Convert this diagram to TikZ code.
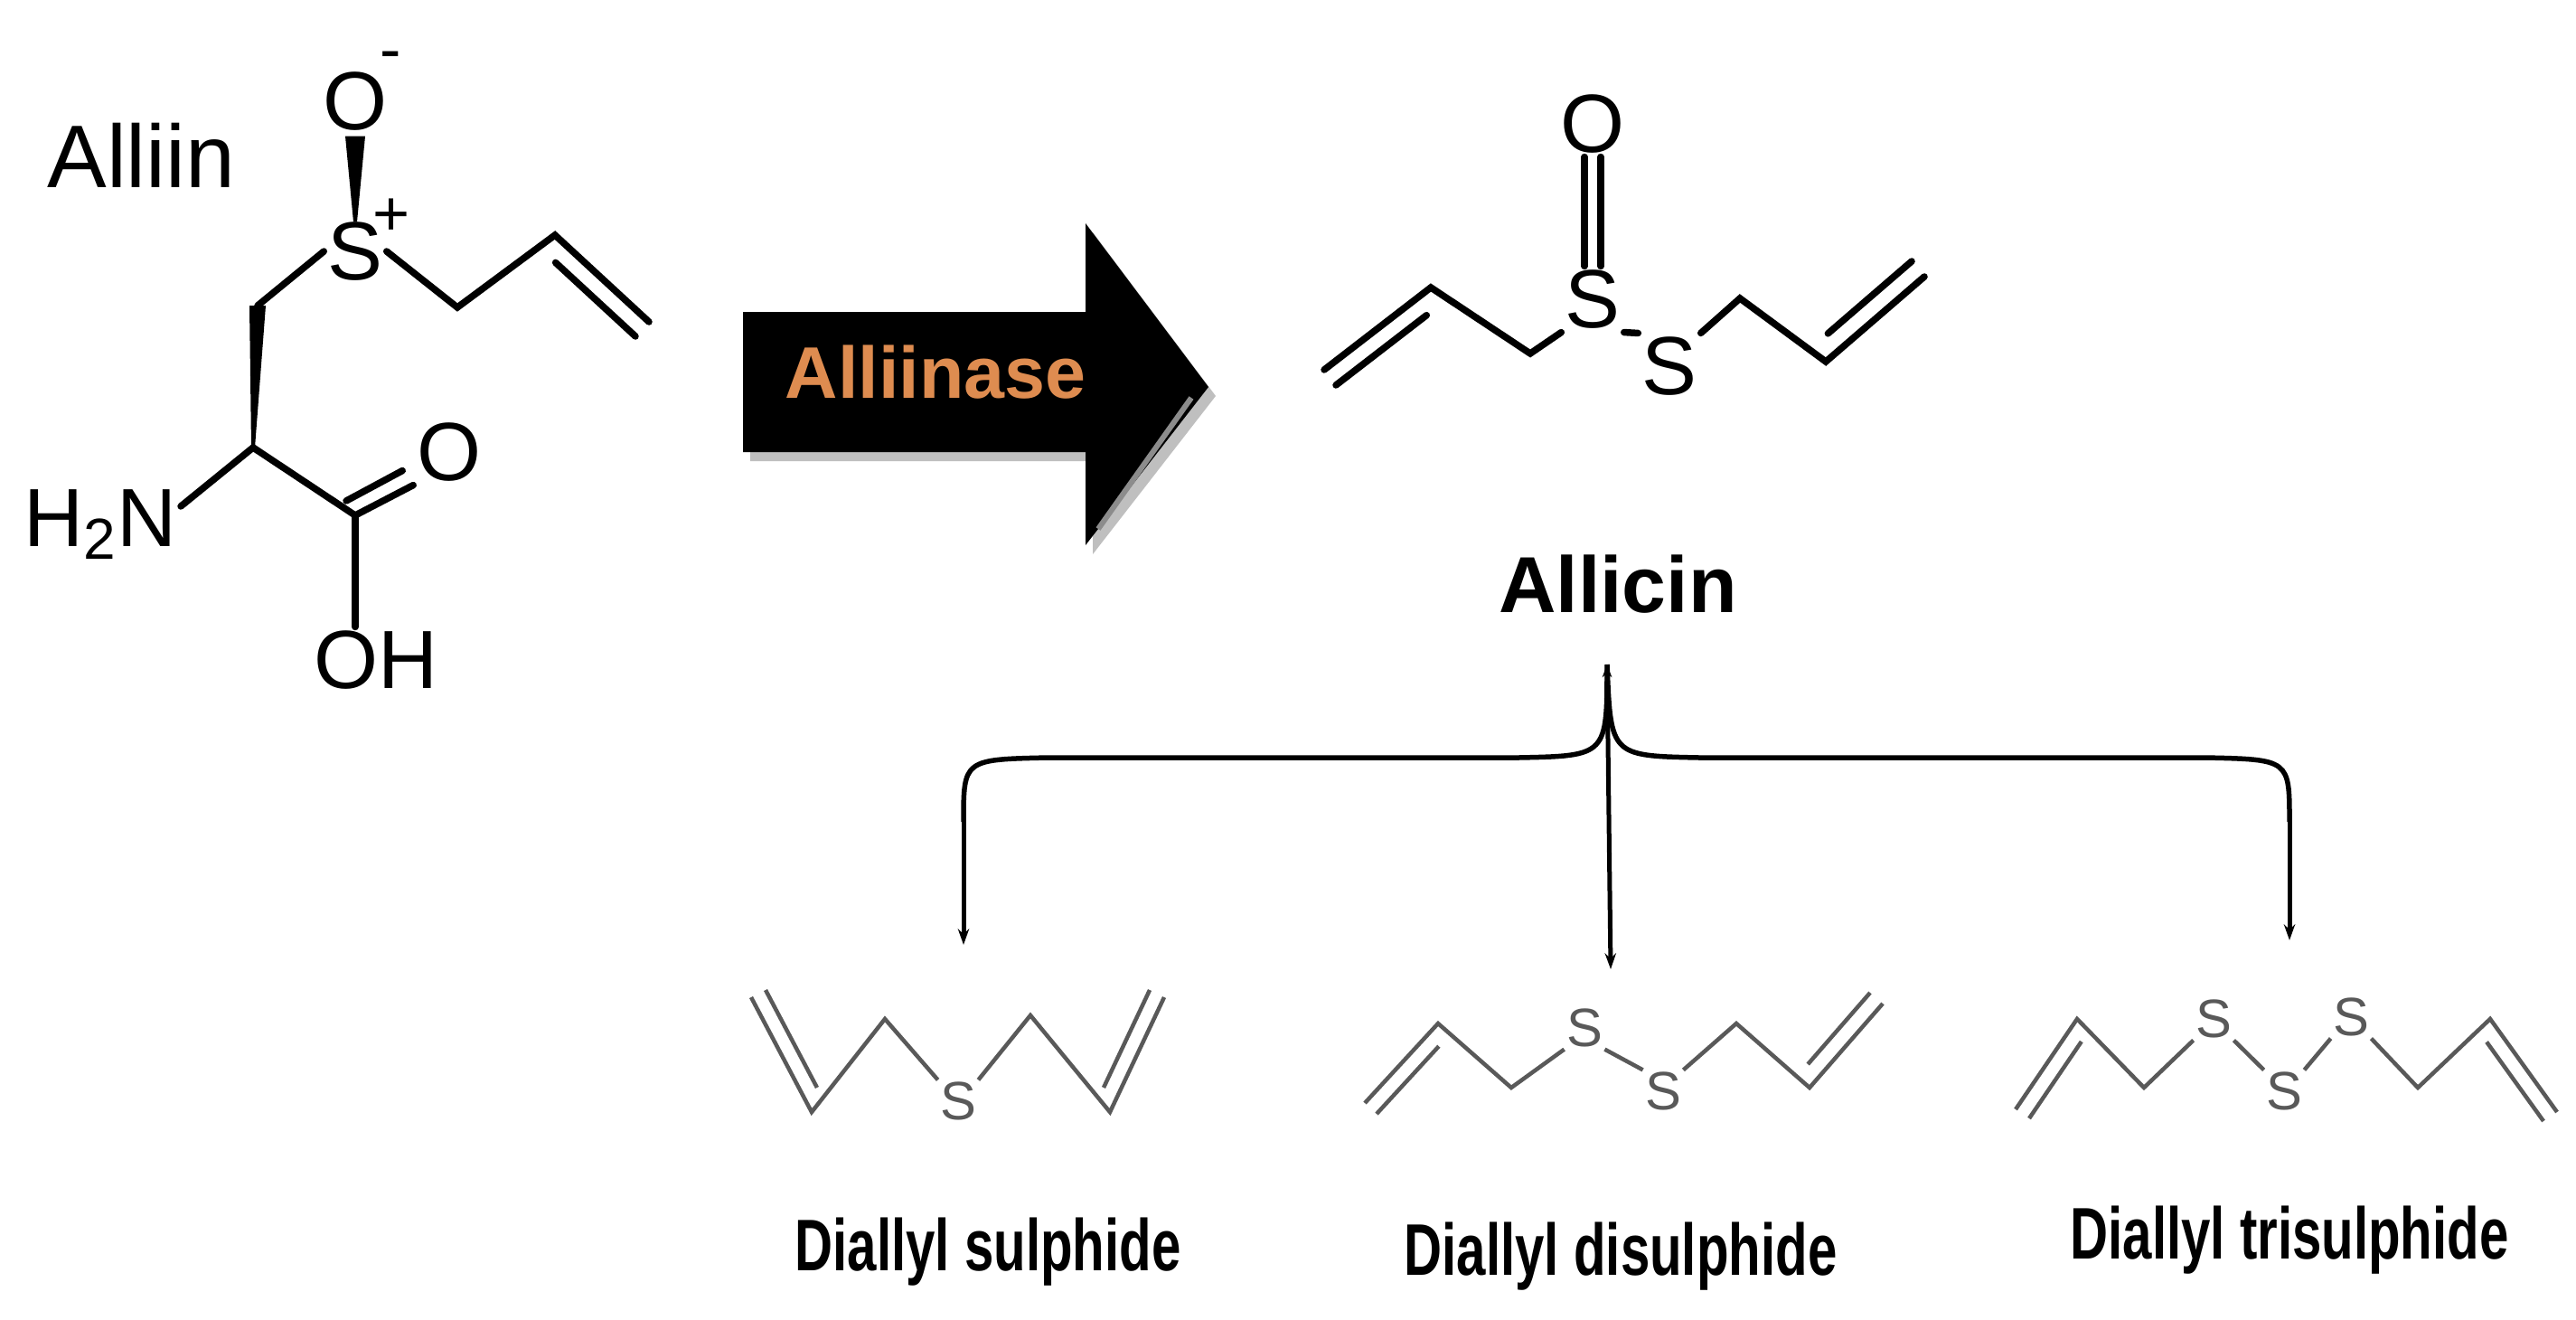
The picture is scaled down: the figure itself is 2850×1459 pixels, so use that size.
\documentclass[tikz,border=0pt]{standalone}
\usepackage{fontspec}
\setmainfont{Liberation Sans}
\usetikzlibrary{arrows.meta,calc}
\begin{document}
\begin{tikzpicture}[x=0.1mm,y=-0.1mm,
  atom/.style={font=\fontsize{26}{26}\selectfont, inner sep=1pt},
  gatom/.style={font=\fontsize{17}{17}\selectfont, inner sep=0.5pt, text=black!65},
  bond/.style={line width=0.75mm, line cap=round},
  gbond/.style={line width=0.45mm, draw=black!65},
  lbl/.style={font=\bfseries\fontsize{23}{23}\selectfont, xscale=0.72, anchor=center},
  tip/.style={-{Stealth[length=5pt,width=3.5pt]}, line width=0.5mm}]
\useasboundingbox (0,0) rectangle (2850,1459);
% ---------- Alliin ----------
\node[font=\fontsize{28}{28}\selectfont, anchor=west] (tAlliin) at (40,172) {Alliin};
\node[atom] (O1) at (393,112) {O};
\node[atom, font=\fontsize{20}{20}\selectfont] (Om) at (432,68) {-};
\node[atom] (S1) at (393,278) {S};
\node[atom, font=\fontsize{20}{20}\selectfont] (Sp) at (433,240) {+};
\coordinate (C1) at (285,338);
\coordinate (Ca) at (280,495);
\node[atom, anchor=east] (N) at (200,580) {H\textsubscript{2}N};
\coordinate (Cc) at (393,570);
\node[atom] (O2) at (497,500) {O};
\node[atom] (OH) at (416,730) {OH};
\coordinate (A1) at (506,340);
\coordinate (A2) at (614,260);
\coordinate (A3) at (718,356);
\fill ($(O1.south)+(-11,2)$) -- ($(O1.south)+(11,2)$) -- ($(S1.north)+(2,4)$) -- ($(S1.north)+(-2,4)$) -- cycle;
\draw[bond] (S1.west) -- (C1);
\fill ($(C1)+(-9,0)$) -- ($(C1)+(9,0)$) -- ($(Ca)+(2,0)$) -- ($(Ca)+(-2,0)$) -- cycle;
\draw[bond] (Ca) -- ($(N.east)+(0,-20)$);
\draw[bond] (Ca) -- (Cc);
\draw[bond] (Cc) -- (O2.south west);
\draw[bond] ($(Cc)+(-10,-16)$) -- ($(O2.south west)+(-12,-16)$);
\draw[bond] (Cc) -- (Cc |- OH.north);
\draw[bond] (S1.east) -- (A1) -- (A2) -- (A3);
\draw[bond] ($(A2)!0.15!(A3)+(-15,16)$) -- ($(A2)!1!(A3)+(-15,16)$);
% ---------- Arrow ----------
\fill[black!25] (830,355) -- (1209,355) -- (1209,257) -- (1345,438) -- (1209,613) -- (1209,510) -- (830,510) -- cycle;
\fill[black] (822,345) -- (1201,345) -- (1201,247) -- (1337,428) -- (1201,603) -- (1201,500) -- (822,500) -- cycle;
\draw[black!45, line width=0.6mm] (1215,585) -- (1318,440);
\node[font=\bfseries\fontsize{23}{23}\selectfont, text={rgb,255:red,222;green,140;blue,80}] (enz) at (1035,412) {Alliinase};
% ---------- Allicin ----------
\coordinate (B1) at (1465,409);
\coordinate (B2) at (1583,318);
\coordinate (B3) at (1693,391);
\node[atom] (SA) at (1762,331) {S};
\node[atom] (SB) at (1847,405) {S};
\coordinate (B4) at (1925,330);
\coordinate (B5) at (2020,400);
\coordinate (B6) at (2129,306);
\node[atom] (OA) at (1762,137) {O};
\draw[bond] (B1) -- (B2) -- (B3) -- (SA.south west);
\draw[bond] ($(B1)!0!(B2)+(13,17)$) -- ($(B1)!0.85!(B2)+(13,17)$);
\draw[bond] (SA.south east) -- (SB.north west);
\draw[bond] (SB.north east) -- (B4) -- (B5) -- (B6);
\draw[bond] ($(B5)!0.15!(B6)+(-14,-17)$) -- ($(B5)!1!(B6)+(-14,-17)$);
\draw[bond] ($(OA.south)+(-9,0)$) -- ($(SA.north)+(-9,0)$);
\draw[bond] ($(OA.south)+(9,0)$) -- ($(SA.north)+(9,0)$);
\node[font=\bfseries\fontsize{25}{25}\selectfont] (tAllicin) at (1790,646) {Allicin};
% ---------- Brace ----------
\coordinate (Bt) at (1778,735);
\coordinate (Bl) at (1066,909);
\coordinate (Br) at (2533,909);
\coordinate (Dl) at (1066,1045);
\coordinate (Dc) at (1782,1072);
\coordinate (Dr) at (2533,1040);
\draw[line width=0.55mm] (Bl) .. controls (1066,840) .. (1160,838) -- (1680,838) .. controls (1778,836) .. (Bt)
  .. controls (1782,836) .. (1880,838) -- (2440,838) .. controls (2533,840) .. (Br);
\draw[tip] (Bl) -- (Dl);
\draw[tip] (Bt) -- (Dc);
\draw[tip] (Br) -- (Dr);
\draw[-{Stealth[length=4pt,width=3pt]}, line width=0.5mm] (1778,760) -- (Bt);
% ---------- Diallyl sulphide ----------
\node[gatom] (s1) at (1060,1218) {S};
\coordinate (p1) at (831,1103); \coordinate (p2) at (898,1230);
\coordinate (p3) at (1228,1230); \coordinate (p4) at (1288,1103);
\draw[gbond] (p1) -- (p2) -- (979,1127) -- (s1.north west);
\draw[gbond] ($(p1)!0!(p2)+(16,-8)$) -- ($(p1)!0.85!(p2)+(16,-8)$);
\draw[gbond] (s1.north east) -- (1140,1123) -- (p3) -- (p4);
\draw[gbond] ($(p3)!0.15!(p4)+(-16,-8)$) -- ($(p3)!1!(p4)+(-16,-8)$);
% ---------- Diallyl disulphide ----------
\node[gatom] (d1) at (1753,1137) {S};
\node[gatom] (d2) at (1840,1207) {S};
\coordinate (q1) at (1510,1220); \coordinate (q2) at (1591,1132);
\coordinate (q3) at (2002,1203); \coordinate (q4) at (2083,1110);
\draw[gbond] (q1) -- (q2) -- (1672,1203) -- (d1.south west);
\draw[gbond] ($(q1)!0!(q2)+(13,12)$) -- ($(q1)!0.85!(q2)+(13,12)$);
\draw[gbond] (d1.south east) -- (d2.north west);
\draw[gbond] (d2.north east) -- (1921,1132) -- (q3) -- (q4);
\draw[gbond] ($(q3)!0.15!(q4)+(-14,-12)$) -- ($(q3)!1!(q4)+(-14,-12)$);
% ---------- Diallyl trisulphide ----------
\node[gatom] (t1) at (2449,1127) {S};
\node[gatom] (t2) at (2527,1207) {S};
\node[gatom] (t3) at (2601,1125) {S};
\coordinate (r1) at (2230,1227); \coordinate (r2) at (2298,1127);
\coordinate (r3) at (2755,1127); \coordinate (r4) at (2829,1230);
\draw[gbond] (r1) -- (r2) -- (2372,1203) -- (t1.south west);
\draw[gbond] ($(r1)!0!(r2)+(15,10)$) -- ($(r1)!0.85!(r2)+(15,10)$);
\draw[gbond] (t1.south east) -- (t2.north west);
\draw[gbond] (t2.north east) -- (t3.south west);
\draw[gbond] (t3.south east) -- (2675,1203) -- (r3) -- (r4);
\draw[gbond] ($(r3)!0.15!(r4)+(-15,10)$) -- ($(r3)!1!(r4)+(-15,10)$);
% ---------- labels ----------
\node[lbl] (l1) at (1093,1385) {Diallyl sulphide};
\node[lbl] (l2) at (1793,1390) {Diallyl disulphide};
\node[lbl] (l3) at (2533,1372) {Diallyl trisulphide};
\end{tikzpicture}
\end{document}
